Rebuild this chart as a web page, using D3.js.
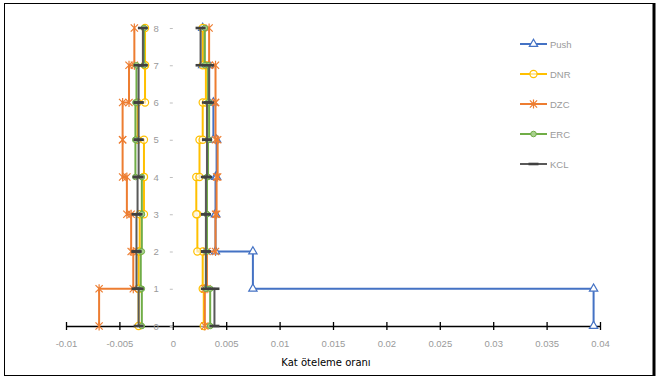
<!DOCTYPE html>
<html>
<head>
<meta charset="utf-8">
<script src="https://cdn.jsdelivr.net/npm/d3@7"></script>
<style>
  html, body { margin: 0; padding: 0; background: #fff; }
  svg { display: block; }
</style>
</head>
<body>
<svg id="chart" width="665" height="379"></svg>
<script>
// Story numbers (story i spans floor levels i-1 .. i)
const stories = [1, 2, 3, 4, 5, 6, 7, 8];
const levelTicks = [0, 1, 2, 3, 4, 5, 6, 7, 8];
const driftTicks = [-0.01, -0.005, 0, 0.005, 0.01, 0.015, 0.02, 0.025, 0.03, 0.035, 0.04];

// Inter-story drift ratios per story (stories 1..8)
const pushPos = [0.0394, 0.0075, 0.0040, 0.0040, 0.0041, 0.0038, 0.0034, 0.0028];
const dnrPos  = [0.0029, 0.0028, 0.0023, 0.0022, 0.0025, 0.0028, 0.0031, 0.0028];
const dnrNeg  = [-0.0032, -0.0032, -0.0031, -0.0027, -0.0027, -0.0033, -0.0026, -0.0026];
const dzcPos  = [0.0030, 0.0032, 0.0040, 0.0041, 0.0042, 0.0040, 0.0040, 0.0034];
const dzcNeg  = [-0.0069, -0.0037, -0.0039, -0.0043, -0.0047, -0.0047, -0.0041, -0.0036];
const ercPos  = [0.0035, 0.0031, 0.0032, 0.0032, 0.0033, 0.0034, 0.0033, 0.0030];
const ercNeg  = [-0.0029, -0.0030, -0.0029, -0.0029, -0.0035, -0.0035, -0.0034, -0.0027];
const kclPos  = [0.0039, 0.0031, 0.0031, 0.0031, 0.0032, 0.0032, 0.0034, 0.0026];
const kclNeg  = [-0.0032, -0.0034, -0.0034, -0.0033, -0.0032, -0.0032, -0.0032, -0.0028];

const seriesNames = ["Push", "DNR", "DZC", "ERC", "KCL"];

const series = [
  { name: "Push", color: "#4472C4", marker: "triangle", sides: [pushPos] },
  { name: "DNR",  color: "#FFC000", marker: "circle",   sides: [dnrPos, dnrNeg] },
  { name: "DZC",  color: "#ED7D31", marker: "star",     sides: [dzcPos, dzcNeg] },
  { name: "ERC",  color: "#70AD47", marker: "dot",      sides: [ercPos, ercNeg] },
  { name: "KCL",  color: "#595959", marker: "dash",     sides: [kclPos, kclNeg] }
];

const svg = d3.select("#chart");
const x = d3.scaleLinear().domain([-0.01, 0.04]).range([66, 600]);
const y = d3.scaleLinear().domain([0, 8]).range([326, 28]);

// chart frame
svg.append("rect").attr("x", 4.5).attr("y", 3.5).attr("width", 650).attr("height", 372)
  .attr("fill", "none").attr("stroke", "#000").attr("stroke-width", 1);
svg.append("line").attr("x1", 654).attr("x2", 654).attr("y1", 3).attr("y2", 376)
  .attr("stroke", "#000").attr("stroke-width", 3);

// x axis
const xAxis = d3.axisBottom(x).tickValues(driftTicks).tickSize(0).tickPadding(14)
  .tickFormat(d => d === 0 ? "0" : String(+d.toFixed(3)));
const gx = svg.append("g").attr("transform", `translate(0,${y(0)})`).call(xAxis);
gx.select(".domain").attr("stroke", "#000").attr("stroke-width", 1.3);
gx.selectAll(".tick").append("line").attr("y1", -4).attr("y2", 4)
  .attr("stroke", "#000").attr("stroke-width", 1.3);
gx.selectAll("text").attr("fill", "#9a9a9a").style("font-family", "'Liberation Sans', Arial, sans-serif")
  .style("font-size", "9.5px");

// y axis (labels left of the zero line)
const yAxis = d3.axisLeft(y).tickValues(levelTicks).tickSize(3).tickPadding(11).tickFormat(d3.format("d"));
const gy = svg.append("g").attr("transform", `translate(${x(0)},0)`).call(yAxis);
gy.select(".domain").remove();
gy.selectAll(".tick line").attr("stroke", "#bfbfbf").attr("stroke-width", 1);
gy.selectAll("text").attr("fill", "#9a9a9a").style("font-family", "'Liberation Sans', Arial, sans-serif")
  .style("font-size", "9.5px");

// axis title
svg.append("text").attr("x", 326).attr("y", 366).attr("text-anchor", "middle")
  .style("font-family", "'DejaVu Sans', sans-serif").style("font-size", "10px").attr("fill", "#000")
  .text("Kat öteleme oranı");

function drawMarker(g, type, color, cx, cy) {
  const m = g.append("g").attr("transform", `translate(${cx},${cy})`);
  if (type === "triangle") {
    m.append("path").attr("d", d3.symbol(d3.symbolTriangle, 30)())
      .attr("fill", "#fff").attr("stroke", color).attr("stroke-width", 1.2);
  } else if (type === "circle") {
    m.append("circle").attr("r", 3.6).attr("fill", "#fff").attr("fill-opacity", 0.6)
      .attr("stroke", color).attr("stroke-width", 1.2);
  } else if (type === "star") {
    const s = 3.6;
    m.append("path").attr("d", `M${-s},${-s}L${s},${s}M${-s},${s}L${s},${-s}M0,${-s - 1}L0,${s + 1}`)
      .attr("stroke", color).attr("stroke-width", 1.2).attr("fill", "none");
  } else if (type === "dot") {
    m.append("circle").attr("r", 2.8).attr("fill", "#a9d08e").attr("stroke", color).attr("stroke-width", 1);
  } else if (type === "dash") {
    m.append("line").attr("x1", -5).attr("x2", 5).attr("stroke", "#404040").attr("stroke-width", 2.6);
  }
}

const line = d3.line().x(d => x(d[0])).y(d => y(d[1]));
const plot = svg.append("g");

series.forEach(s => {
  const g = plot.append("g");
  s.sides.forEach(vals => {
    const pts = [];
    stories.forEach((st, i) => {
      pts.push([vals[i], st - 1]);
      pts.push([vals[i], st]);
    });
    g.append("path").attr("d", line(pts)).attr("fill", "none")
      .attr("stroke", s.color).attr("stroke-width", 2).attr("stroke-linejoin", "miter");
    pts.forEach(p => drawMarker(g, s.marker, s.color, x(p[0]), y(p[1])));
  });
});

// legend
const leg = svg.append("g");
seriesNames.forEach((name, i) => {
  const s = series.find(d => d.name === name);
  const ly = 44 + i * 30;
  leg.append("line").attr("x1", 520).attr("x2", 547).attr("y1", ly).attr("y2", ly)
    .attr("stroke", s.color).attr("stroke-width", 2);
  drawMarker(leg, s.marker, s.color, 533.5, ly);
  leg.append("text").attr("x", 550).attr("y", ly + 3.5).attr("fill", "#9a9a9a")
    .style("font-family", "'Liberation Sans', Arial, sans-serif").style("font-size", "9.5px").text(name);
});
</script>
</body>
</html>
